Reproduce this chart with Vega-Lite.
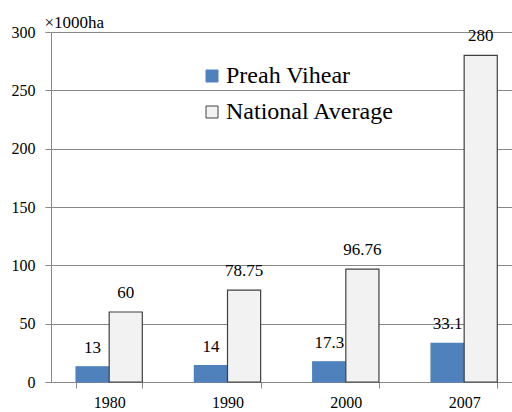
{
  "$schema": "https://vega.github.io/schema/vega-lite/v6.json",
  "width": 461,
  "height": 350,
  "autosize": {"type": "none"},
  "padding": {"left": 51, "top": 32, "right": 0, "bottom": 30},
  "background": "white",
  "config": {
    "font": "'Liberation Serif', 'Times New Roman', serif",
    "view": {"stroke": null},
    "legend": {"labelFont": "'Liberation Serif', 'Times New Roman', serif"},
    "text": {"font": "'Liberation Serif', 'Times New Roman', serif"}
  },
  "data": {
    "values": [
      {"year": "1980", "series": "Preah Vihear", "value": 13},
      {"year": "1980", "series": "National Average", "value": 60},
      {"year": "1990", "series": "Preah Vihear", "value": 14},
      {"year": "1990", "series": "National Average", "value": 78.75},
      {"year": "2000", "series": "Preah Vihear", "value": 17.3},
      {"year": "2000", "series": "National Average", "value": 96.76},
      {"year": "2007", "series": "Preah Vihear", "value": 33.1},
      {"year": "2007", "series": "National Average", "value": 280}
    ]
  },
  "encoding": {
    "x": {
      "field": "year", "type": "nominal",
      "scale": {"paddingInner": 0.44, "paddingOuter": 0.168, "align": 0.63},
      "axis": {
        "title": null, "labelAngle": 0, "labelFontSize": 16, "labelColor": "black",
        "labelFont": "'Liberation Serif', 'Times New Roman', serif",
        "labelPadding": 6, "tickBand": "extent", "tickSize": 6,
        "domainColor": "#888888", "tickColor": "#888888"
      }
    },
    "xOffset": {"field": "series", "type": "nominal", "sort": ["Preah Vihear", "National Average"]},
    "y": {
      "field": "value", "type": "quantitative",
      "scale": {"domain": [0, 300], "nice": false},
      "axis": {
        "values": [0, 50, 100, 150, 200, 250, 300],
        "title": "×1000ha", "titleAngle": 0, "titleX": -7, "titleY": -1,
        "titleAlign": "left", "titleBaseline": "bottom", "titleFontSize": 17, "titleFontWeight": "normal",
        "titleColor": "black", "titleFont": "'Liberation Serif', 'Times New Roman', serif",
        "labelFontSize": 16, "labelColor": "black", "labelPadding": 10,
        "labelFont": "'Liberation Serif', 'Times New Roman', serif",
        "gridColor": "#888888", "domainColor": "#888888", "tickColor": "#888888", "tickSize": 6
      }
    }
  },
  "layer": [
    {
      "mark": {"type": "bar", "strokeWidth": 1.2},
      "encoding": {
        "fill": {
          "field": "series", "type": "nominal",
          "sort": ["Preah Vihear", "National Average"],
          "scale": {"domain": ["Preah Vihear", "National Average"], "range": ["#4f81bd", "#f2f2f2"]},
          "legend": {
            "title": null, "orient": "none", "legendX": 149, "legendY": 32,
            "labelFontSize": 24, "labelColor": "black",
            "labelFont": "'Liberation Serif', 'Times New Roman', serif", "labelLimit": 0,
            "symbolType": "square", "symbolSize": 144,
            "rowPadding": 12, "labelOffset": 2, "symbolStrokeWidth": 1
          }
        },
        "stroke": {
          "field": "series", "type": "nominal",
          "sort": ["Preah Vihear", "National Average"],
          "scale": {"domain": ["Preah Vihear", "National Average"], "range": ["#4f81bd", "#404040"]},
          "legend": {
            "title": null, "orient": "none", "legendX": 149, "legendY": 32,
            "labelFontSize": 24, "labelColor": "black",
            "labelFont": "'Liberation Serif', 'Times New Roman', serif", "labelLimit": 0,
            "symbolType": "square", "symbolSize": 144,
            "rowPadding": 12, "labelOffset": 2, "symbolStrokeWidth": 1
          }
        }
      }
    },
    {
      "mark": {"type": "text", "dy": -19, "fontSize": 17, "color": "black",
        "font": "'Liberation Serif', 'Times New Roman', serif"},
      "encoding": {
        "text": {"field": "value", "type": "quantitative", "format": "~g"}
      }
    }
  ]
}
